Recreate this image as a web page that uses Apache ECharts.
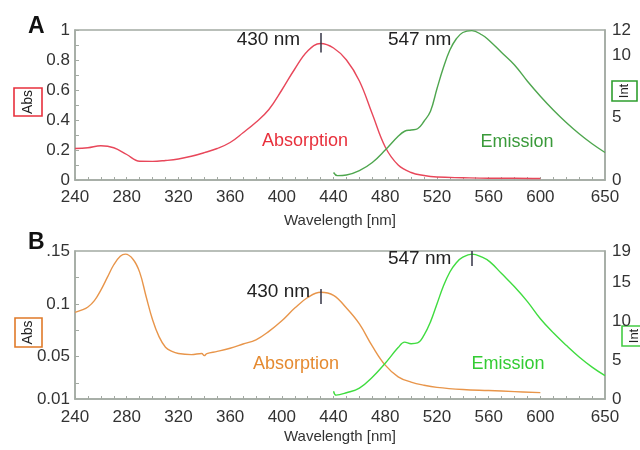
<!DOCTYPE html>
<html><head><meta charset="utf-8">
<script src="https://cdn.jsdelivr.net/npm/echarts@6/dist/echarts.min.js"></script>
<style>html,body{margin:0;padding:0;background:#fff}#c{width:640px;height:450px}</style>
</head><body><div id="c"></div>
<script>
// ---- Panel A ----
const wlAbsA = [240,250,260,270,280,290,300,310,320,330,340,350,360,370,380,390,400,410,420,430,440,450,460,470,480,490,500,510,520,540,560,580,600];
const absA   = [0.21,0.215,0.228,0.215,0.17,0.125,0.124,0.13,0.14,0.158,0.182,0.21,0.25,0.315,0.385,0.47,0.6,0.74,0.86,0.91,0.88,0.8,0.66,0.44,0.22,0.1,0.05,0.03,0.02,0.015,0.012,0.012,0.01];
const wlEmA  = [440,443,450,460,470,480,490,495,500,505,510,515,520,525,530,535,540,547,555,560,570,580,590,600,610,620,630,640,650];
const emA    = [0.6,0.35,0.4,0.75,1.4,2.4,3.5,3.9,4.0,4.1,4.7,5.5,7.3,9.0,10.4,11.3,11.8,11.95,11.6,11.2,10.2,9.2,7.9,6.7,5.6,4.6,3.7,2.9,2.2];
// ---- Panel B ----
const wlAbsB = [240,245,250,255,260,265,270,275,279,285,290,295,300,305,310,315,320,330,338,340,342,350,360,370,380,390,400,410,420,430,440,450,460,470,480,490,500,510,520,540,560,580,600];
const absB   = [0.092,0.094,0.097,0.103,0.113,0.125,0.137,0.145,0.147,0.142,0.13,0.107,0.085,0.069,0.059,0.055,0.053,0.052,0.053,0.051,0.053,0.055,0.058,0.062,0.066,0.074,0.084,0.096,0.106,0.111,0.108,0.096,0.081,0.06,0.042,0.031,0.026,0.023,0.021,0.019,0.018,0.017,0.016];
const wlEmB  = [440,442,450,460,470,480,490,495,500,505,510,515,520,525,530,535,540,547,555,561,570,580,590,600,610,620,630,640,650];
const emB    = [1.0,0.5,0.8,1.4,2.8,4.6,6.6,7.3,7.1,7.2,8.2,9.9,12.2,14.5,16.3,17.5,18.2,18.6,18.2,17.6,16.1,14.4,12.5,10.3,8.5,6.9,5.4,4.1,3.0];
// ---- tick labels ----
const xLabels   = [240,280,320,360,400,440,480,520,560,600,650];
const xTicks    = [240,250,260,270,280,290,300,310,320,330,340,350,360,370,380,390,400,410,420,430,440,450,460,470,480,490,500,510,520,530,540,550,560,570,580,590,600,610,620,630,640];
const yLabelsA  = [0,0.2,0.4,0.6,0.8,1];
const yTicksA   = [0,0.1,0.2,0.3,0.4,0.5,0.6,0.7,0.8,0.9,1];
const y2LabelsA = [0,5,10,12];
const yLabelsB  = [0.01,0.05,0.1,0.15];
const yTicksB   = [0.025,0.05,0.075,0.1,0.125];
const y2LabelsB = [0,5,10,15,19];

const FONT = 'Liberation Sans, Arial, sans-serif';
const AX = '#a3aaa3';
const pair = (xs, ys) => xs.map((x, i) => [x, ys[i]]);

function xAxis(gi){
  return {
    type:'value', gridIndex:gi, min:240, max:650,
    name:'Wavelength [nm]', nameLocation:'middle', nameGap: gi===0 ? 33 : 30,
    nameTextStyle:{fontFamily:FONT, fontSize:15, color:'#333'},
    axisLine:{show:true, lineStyle:{color:AX, width:1.5}},
    axisTick:{show:true, inside:true, length:3, customValues:xTicks, lineStyle:{color:AX}},
    axisLabel:{customValues:xLabels, fontFamily:FONT, fontSize:17, color:'#333', margin: gi===0 ? 9 : 10},
    splitLine:{show:false}
  };
}
function yAxis(gi, pos, min, max, labels, ticks, fmt){
  return {
    type:'value', gridIndex:gi, position:pos, min:min, max:max,
    axisLine:{show:true, lineStyle:{color:AX, width:1.5}},
    axisTick:{show: !!ticks, inside:true, length:4, customValues:ticks || [], lineStyle:{color:AX}},
    axisLabel:{customValues:labels, fontFamily:FONT, fontSize:17, color:'#333', margin: pos==='left' ? 5 : 7, formatter: fmt},
    splitLine:{show:false}
  };
}
function peakMark(x, y1, y2, ly, txt, dist){
  return {
    markLine:{silent:true, symbol:['none','none'], animation:false, label:{show:false},
      lineStyle:{color:'#334', width:1.5, type:'solid'},
      data:[[{coord:[x,y1]},{coord:[x,y2]}]]},
    markPoint:{silent:true, animation:false, symbol:'circle', symbolSize:1, itemStyle:{color:'transparent'},
      data:[{coord:[x,ly], label:{show:true, position:'left', distance:dist, formatter:txt, color:'#222', fontFamily:FONT, fontSize:19}}]}
  };
}
function namePoint(x, y, txt, color){
  return {coord:[x,y], label:{show:true, position:'inside', formatter:txt, color:color, fontFamily:FONT, fontSize:18}};
}
function lineSeries(xi, yi, data, color, extra){
  return Object.assign({
    type:'line', xAxisIndex:xi, yAxisIndex:yi, data:data, showSymbol:false, symbol:'none',
    smooth:0.4, clip:false, animation:false,
    lineStyle:{color:color, width:1.4}, itemStyle:{color:color}
  }, extra || {});
}

const cRedLine='#e8475a', cRedTxt='#e8303c';
const cGreenLine='#4ea64e', cGreenTxt='#3a9a3a';
const cOrLine='#e8954a', cOrTxt='#e58a30';
const cLimeLine='#3fdc3f', cLimeTxt='#33cc33';

function withLabel(series, pt){
  series.markPoint.data.push(pt);
  return series;
}

const sAbsA = lineSeries(0,0,pair(wlAbsA,absA),cRedLine, peakMark(430,0.98,0.85,0.933,'430 nm',20));
withLabel(sAbsA, namePoint(418,0.26,'Absorption',cRedTxt));
const sEmA = lineSeries(0,1,pair(wlEmA,emA),cGreenLine, peakMark(547,12.4,10.8,11.2,'547 nm',20));
withLabel(sEmA, namePoint(582,3.04,'Emission',cGreenTxt));
const sAbsB = lineSeries(1,2,pair(wlAbsB,absB),cOrLine, peakMark(430,0.114,0.0999,0.111,'430 nm',10));
withLabel(sAbsB, namePoint(411,0.043,'Absorption',cOrTxt));
const sEmB = lineSeries(1,3,pair(wlEmB,emB),cLimeLine, peakMark(547,19.0,17.07,17.97,'547 nm',20));
withLabel(sEmB, namePoint(575,4.5,'Emission',cLimeTxt));

function boxLabel(x, y, w, h, txt, color, fs){
  return {type:'group', children:[
    {type:'rect', shape:{x:x, y:y, width:w, height:h}, style:{fill:'#fff', stroke:color, lineWidth:1.6}},
    {type:'text', x:x+w/2, y:y+h/2, rotation:Math.PI/2,
      style:{text:txt, fill:'#222', font:fs+'px '+FONT, align:'center', verticalAlign:'middle'}}
  ]};
}

const chart = echarts.init(document.getElementById('c'), null, {renderer:'canvas'});
chart.setOption({
  backgroundColor:'#fff',
  animation:false,
  grid:[
    {left:75, right:35, top:30, height:150, show:true, borderColor:AX, borderWidth:1.5, backgroundColor:'transparent'},
    {left:75, right:35, top:251, height:148, show:true, borderColor:AX, borderWidth:1.5, backgroundColor:'transparent'}
  ],
  xAxis:[xAxis(0), xAxis(1)],
  yAxis:[
    yAxis(0,'left',0,1,yLabelsA,yTicksA),
    yAxis(0,'right',0,12,y2LabelsA,null),
    yAxis(1,'left',0.01,0.15,yLabelsB,yTicksB, v => (Math.abs(v-0.15)<1e-9 ? '.15' : String(v))),
    yAxis(1,'right',0,19,y2LabelsB,null)
  ],
  series:[sAbsA, sEmA, sAbsB, sEmB],
  graphic:[
    {type:'text', left:28, top:15, style:{text:'A', font:'bold 23px '+FONT, fill:'#111'}},
    {type:'text', left:28, top:231, style:{text:'B', font:'bold 23px '+FONT, fill:'#111'}},
    boxLabel(14,88,28,28,'Abs','#e8303c',14),
    boxLabel(612,81,25,20,'Int','#2e9e2e',13),
    boxLabel(15,318,27,29,'Abs','#e07a28',14),
    boxLabel(622,326,25,20,'Int','#44cc44',13)
  ]
});
</script>
</body></html>
